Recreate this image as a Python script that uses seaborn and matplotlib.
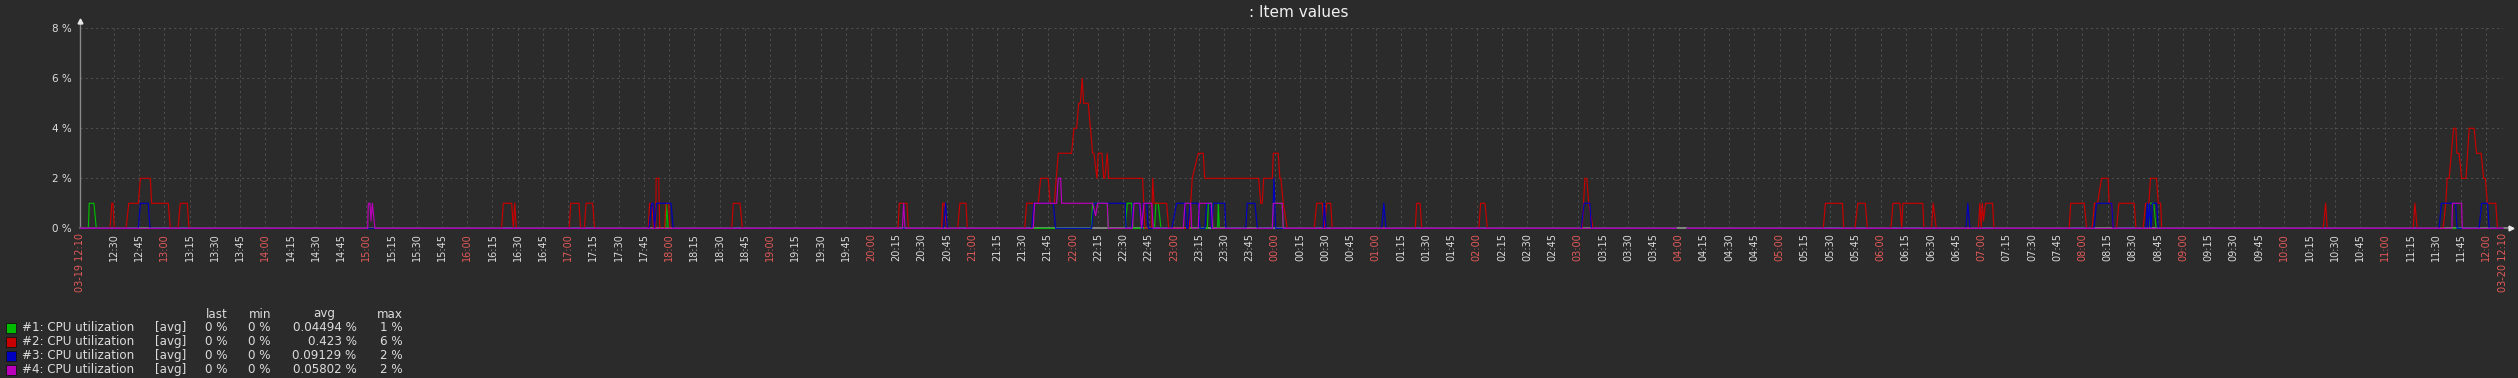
import numpy as np
import pandas as pd
import matplotlib
matplotlib.use("Agg")
import matplotlib.pyplot as plt
from matplotlib.patches import Rectangle
import seaborn as sns

# ---------------- data ----------------
title = ": Item values"
start_label = "03-19 12:10"
end_label = "03-20 12:10"
start_clock = 12 * 60 + 10      # 12:10
span_minutes = 1440

series_names = ["#1: CPU utilization", "#2: CPU utilization",
                "#3: CPU utilization", "#4: CPU utilization"]
series_colors = ["#00BB00", "#C80000", "#0000C0", "#BB00BB"]
legend_func = ["[avg]", "[avg]", "[avg]", "[avg]"]
legend_last = ["0 %", "0 %", "0 %", "0 %"]
legend_min = ["0 %", "0 %", "0 %", "0 %"]
legend_avg = ["0.04494 %", "0.423 %", "0.09129 %", "0.05802 %"]
legend_max = ["1 %", "6 %", "2 %", "2 %"]
y_ticks = [0, 2, 4, 6, 8]
y_tick_labels = ["0 %", "2 %", "4 %", "6 %", "8 %"]

# minutes after 03-19 12:10, value in %
green_t = [0, 4.8, 5.3, 8.1, 9.5, 348.0, 348.4, 349.4,
           601.0, 601.7, 610.4, 611.0, 621.1, 622.3, 624.9, 625.7,
           638.5, 639.3, 640.7, 642.3, 669.9, 670.5, 672.6, 673.2,
           676.0, 676.4, 677.0, 708.5, 709.1, 714.4, 715.0,
           948.5, 951.5, 955.0, 1229.4, 1229.8, 1232.4, 1233.8, 1440]
green_v = [0, 0, 1, 1, 0, 0, 1, 0,
           0, 1, 1, 0, 0, 1, 1, 0,
           0, 1, 1, 0, 0, 1, 1, 0,
           0, 1, 0, 0, 1, 1, 0,
           0, np.nan, 0, 0, 1, 1, 0, 0]

red_t = [0, 17.7, 18.7, 19.4, 20.2,
         27.2, 28.8, 34.5, 35.7, 41.6, 42.4, 52.3, 53.5,
         58.1, 59.4, 63.6, 64.6,
         250.4, 251.4, 256.4, 257.4, 258.2, 259.2,
         290.6, 291.5, 296.4, 297.4,
         299.6, 300.6, 304.5, 305.7,
         337.6, 338.4, 339.6, 340.8, 342.0, 342.3, 343.8, 344.4, 347.3, 348.1, 349.7, 350.5,
         387.2, 388.1, 392.1, 393.5,
         486.0, 486.8, 491.3, 492.2,
         512.0, 512.6, 513.5, 514.9,
         521.5, 522.8, 526.4, 527.2,
         561.3, 562.5, 569.4, 570.8, 575.3, 576.5, 578.9, 580.1, 581.3, 589.2,
         590.6, 592.2, 593.4, 594.4, 595.5, 596.4, 599.1, 601.7, 602.5, 604.3,
         605.0, 607.2, 608.3, 609.0, 610.4, 611.2, 631.4, 632.8, 636.8, 637.4,
         638.2, 645.7, 646.9, 659.1, 660.9, 664.5, 667.5, 668.3, 700.4, 701.6,
         702.5, 703.4, 708.5, 709.1, 712.0, 713.0, 713.6, 715.0, 717.4,
         733.4, 734.9, 738.2, 739.4, 740.8, 743.2, 744.1,
         793.5, 794.3, 796.3, 797.3,
         831.3, 832.3, 834.9, 836.3,
         892.7, 894.3, 895.4, 896.6, 899.1,
         948.5, 951.5, 955.0,
         1036.0, 1037.2, 1047.4, 1048.1,
         1054.8, 1056.5, 1061.0, 1062.2,
         1076.2, 1077.4, 1081.5, 1082.6, 1083.3, 1095.1, 1095.8,
         1100.3, 1101.3, 1103.1,
         1128.1, 1129.1, 1129.8, 1130.5, 1131.2, 1132.4, 1136.6, 1137.4,
         1182.2, 1183.0, 1191.1, 1192.5,
         1195.8, 1197.2, 1199.0, 1201.4, 1205.3, 1205.9, 1207.4, 1208.3,
         1210.3, 1211.7, 1220.8, 1221.8,
         1226.1, 1227.6, 1229.5, 1230.5, 1234.1, 1235.1, 1236.5, 1237.1,
         1333.1, 1334.6, 1335.5,
         1386.6, 1387.6, 1389.0,
         1404.4, 1406.0, 1406.8, 1408.0, 1409.3, 1410.6, 1412.0, 1412.6, 1413.9,
         1415.4, 1418.0, 1419.9, 1422.8, 1424.3, 1427.0, 1428.5, 1429.5, 1430.7,
         1435.7, 1436.7, 1440]
red_v = [0, 0, 1, 1, 0,
         0, 1, 1, 2, 2, 1, 1, 0,
         0, 1, 1, 0,
         0, 1, 1, 0, 1, 0,
         0, 1, 1, 0,
         0, 1, 1, 0,
         0, 1, 1, 0, 0, 2, 2, 0, 0, 1, 1, 0,
         0, 1, 1, 0,
         0, 1, 1, 0,
         0, 1, 1, 0,
         0, 1, 1, 0,
         0, 1, 1, 2, 2, 1, 1, 2, 3, 3,
         4, 4, 5, 5, 6, 5, 5, 3, 3, 2,
         3, 3, 2, 2, 3, 2, 2, 0, 0, 2,
         1, 1, 0, 0, 2, 3, 3, 2, 2, 1,
         1, 2, 2, 3, 3, 2, 2, 1, 0,
         0, 1, 1, 0, 1, 1, 0,
         0, 1, 1, 0,
         0, 1, 1, 0,
         0, 2, 2, 1, 0,
         0, np.nan, 0,
         0, 1, 1, 0,
         0, 1, 1, 0,
         0, 1, 1, 0, 1, 1, 0,
         0, 1, 0,
         0, 1, 0, 1, 0.3, 1, 1, 0,
         0, 1, 1, 0,
         0, 1, 1, 2, 2, 1, 1, 0,
         0, 1, 1, 0,
         0, 1, 1, 2, 2, 1, 1, 0,
         0, 1, 0,
         0, 1, 0,
         0, 1, 2, 2, 3, 4, 4, 3, 3,
         2, 2, 4, 4, 3, 3, 2, 2, 1,
         1, 0, 0]

blue_t = [0, 34.5, 35.7, 40.4, 41.4,
          338.0, 339.6, 340.4, 341.3, 342.5, 351.1, 352.4,
          513.1, 514.3, 515.3,
          565.5, 566.8, 578.3, 579.7,
          601.1, 602.5, 621.1, 621.5,
          624.9, 625.8, 629.4, 630.8, 631.2, 631.8, 633.8, 634.8,
          648.8, 651.6, 656.6, 657.6, 658.4, 659.6, 664.5, 665.5,
          668.5, 669.5, 671.4, 672.5, 673.4, 680.2, 680.9,
          692.7, 693.6, 698.2, 699.6,
          708.7, 709.5, 710.5,
          738.8, 739.4, 740.4,
          773.5, 774.8, 776.0,
          892.2, 893.8, 897.2, 898.2,
          948.5, 951.5, 955.0,
          1120.8, 1121.9, 1123.1,
          1196.8, 1198.4, 1207.4, 1208.3,
          1227.8, 1228.6, 1229.2, 1229.8, 1230.8, 1231.6, 1234.1, 1235.1,
          1402.0, 1403.4, 1411.8, 1412.7,
          1425.8, 1427.3, 1430.8, 1431.8, 1440]
blue_v = [0, 0, 1, 1, 0,
          0, 1, 1, 0, 1, 1, 0,
          0, 1, 0,
          0, 1, 1, 0,
          0, 1, 1, 0,
          0, 1, 1, 0, 0, 1, 1, 0,
          0, 1, 1, 0, 0, 1, 1, 0,
          0, 1, 1, 0, 1, 1, 0,
          0, 1, 1, 0,
          0, 2, 0,
          0, 1, 0,
          0, 1, 0,
          0, 1, 1, 0,
          0, np.nan, 0,
          0, 1, 0,
          0, 1, 1, 0,
          0, 1, 0, 1, 0, 1, 1, 0,
          0, 1, 1, 0,
          0, 1, 1, 0, 0]

magenta_t = [0, 170.8, 171.2, 172.2, 172.8, 173.6, 175.1,
             488.6, 489.4, 490.2,
             566.4, 567.2, 580.3, 581.3, 582.7, 583.3, 601.7, 603.5, 604.7, 610.4, 611.0,
             625.3, 626.3, 629.8, 630.8, 632.2, 636.8, 637.7,
             655.6, 656.6, 660.0, 660.6,
             664.5, 665.1, 672.2, 673.0,
             708.5, 709.1, 714.4, 715.0,
             948.5, 951.5, 955.0,
             1409.6, 1410.0, 1415.4, 1415.8, 1440]
magenta_v = [0, 0, 1, 1, 0.3, 1, 0,
             0, 1, 0,
             0, 1, 1, 2, 2, 1, 1, 0.5, 1, 1, 0,
             0, 1, 1, 0, 1, 1, 0,
             0, 1, 1, 0,
             0, 1, 1, 0,
             0, 1, 1, 0,
             0, np.nan, 0,
             0, 1, 1, 0, 0]

# ---------------- long-form table ----------------
frames = []
for name, ts, vs in zip(series_names,
                        [green_t, red_t, blue_t, magenta_t],
                        [green_v, red_v, blue_v, magenta_v]):
    d = pd.DataFrame({"minute": ts, "value": vs})
    d["unit"] = d["value"].isna().cumsum()
    d = d.dropna()
    d["series"] = name
    frames.append(d)
df = pd.concat(frames, ignore_index=True)

# ---------------- styling ----------------
BG = "#2b2b2b"
TXT = "#dcdcdc"
RED_TXT = "#e45959"
GRID = "#505050"
AXIS = "#8a8a8a"

sns.set_style("dark", {"axes.facecolor": BG, "figure.facecolor": BG})
plt.rcParams["font.family"] = ["DejaVu Sans"]

W, H = 2518, 378
fig = plt.figure(figsize=(W / 100, H / 100), dpi=100)
fig.patch.set_facecolor(BG)
x0, x1 = 80.3, 2503.0
y_top, y_bot = 28.3, 228.3
ax = fig.add_axes([x0 / W, 1 - y_bot / H, (x1 - x0) / W, (y_bot - y_top) / H])
ax.set_facecolor(BG)

sns.lineplot(data=df, x="minute", y="value", hue="series", units="unit",
             estimator=None, sort=False, hue_order=series_names,
             palette=series_colors, linewidth=0.85, legend=False, ax=ax)
for ln in ax.lines:
    ln.set_zorder(4)
    ln.set_clip_on(False)

ax.set_xlim(0, span_minutes)
ax.set_ylim(0, 8)
ax.set_xlabel("")
ax.set_ylabel("")

# x ticks every 15 minutes (first 12:15 skipped as in the source)
tick_pos = [0] + list(range(20, span_minutes, 15)) + [span_minutes]
tick_lab = []
for m in tick_pos:
    if m == 0:
        tick_lab.append(start_label)
    elif m == span_minutes:
        tick_lab.append(end_label)
    else:
        c = (start_clock + m) % 1440
        tick_lab.append(f"{c // 60:02d}:{c % 60:02d}")
ax.set_xticks(tick_pos)
ax.set_xticklabels(tick_lab, rotation=90, fontsize=7, va="top", ha="center")
for m, lab, t in zip(tick_pos, tick_lab, ax.get_xticklabels()):
    if m in (0, span_minutes) or lab.endswith(":00"):
        t.set_color(RED_TXT)
    else:
        t.set_color(TXT)

ax.set_yticks(y_ticks)
ax.set_yticklabels(y_tick_labels, fontsize=7.5, color=TXT)
ax.tick_params(axis="both", length=0)
ax.tick_params(axis="x", pad=3.5)
ax.tick_params(axis="y", pad=6.5)

ax.grid(True, axis="both", color=GRID, linestyle=(0, (2, 3)), linewidth=0.75)
for s in ["top", "right", "left", "bottom"]:
    ax.spines[s].set_visible(False)

# axis lines with arrows
ax.plot([0, 0], [0, 1.035], transform=ax.transAxes, color=AXIS, lw=1.0,
        clip_on=False, zorder=3)
ax.plot([0], [1.035], transform=ax.transAxes, marker="^", color="#e8e8e8",
        markersize=3.5, clip_on=False, zorder=3)
ax.plot([0, 1.003], [0, 0], transform=ax.transAxes, color=AXIS, lw=1.3,
        clip_on=False, zorder=3)
ax.plot([1.0035], [0], transform=ax.transAxes, marker=">", color="#e8e8e8",
        markersize=3.5, clip_on=False, zorder=3)

# title
fig.text(1299 / W, 1 - 12.5 / H, title, ha="center", va="center",
         fontsize=11, color="#f0f0f0")

# legend table
def fx(px):
    return px / W

def fy(py):
    return 1 - py / H

LF = 8.6
fig.text(fx(227.7), fy(314), "last", ha="right", va="center", fontsize=LF, color=TXT)
fig.text(fx(271.0), fy(314), "min", ha="right", va="center", fontsize=LF, color=TXT)
fig.text(fx(324.0), fy(314), "avg", ha="center", va="center", fontsize=LF, color=TXT)
fig.text(fx(402.7), fy(314), "max", ha="right", va="center", fontsize=LF, color=TXT)
row_y = [327.7, 341.7, 355.7, 369.7]
for i, name in enumerate(series_names):
    yy = row_y[i]
    fig.patches.append(Rectangle((fx(5.7), fy(yy + 5)), 10 / W, 10 / H,
                                 transform=fig.transFigure, facecolor=series_colors[i],
                                 edgecolor="#111111", linewidth=0.6))
    fig.text(fx(21.7), fy(yy), name, ha="left", va="center", fontsize=LF, color=TXT)
    fig.text(fx(155.0), fy(yy), legend_func[i], ha="left", va="center", fontsize=LF, color=TXT)
    fig.text(fx(227.7), fy(yy), legend_last[i], ha="right", va="center", fontsize=LF, color=TXT)
    fig.text(fx(271.0), fy(yy), legend_min[i], ha="right", va="center", fontsize=LF, color=TXT)
    fig.text(fx(356.5), fy(yy), legend_avg[i], ha="right", va="center", fontsize=LF, color=TXT)
    fig.text(fx(402.7), fy(yy), legend_max[i], ha="right", va="center", fontsize=LF, color=TXT)

fig.savefig("out.png", dpi=100, facecolor=BG)
